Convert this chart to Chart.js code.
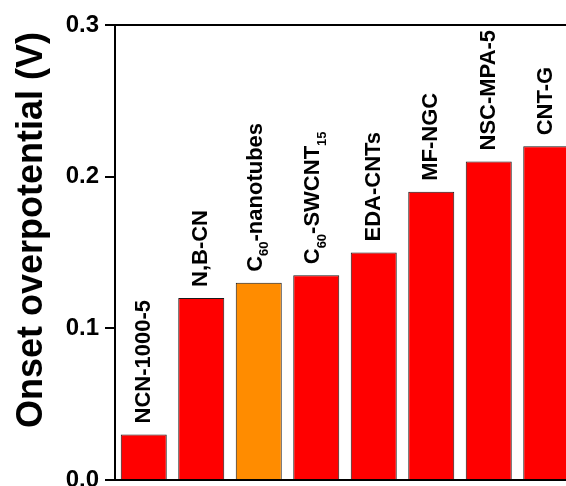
<!DOCTYPE html>
<html>
<head>
<meta charset="utf-8">
<script src="https://cdn.jsdelivr.net/npm/chart.js@4.4.1/dist/chart.umd.min.js"></script>
<style>
  html, body { margin: 0; padding: 0; background: #fff; overflow: hidden; }
  #wrap { width: 566px; height: 486px; overflow: hidden; position: relative; }
  canvas { display: block; }
</style>
</head>
<body>
<div id="wrap"><canvas id="c" width="590" height="520"></canvas></div>
<script>
// ---- data ----
const categories = ['NCN-1000-5', 'N,B-CN', 'C_{60}-nanotubes', 'C_{60}-SWCNT_{15}', 'EDA-CNTs', 'MF-NGC', 'NSC-MPA-5', 'CNT-G'];
const onsetValues = [0.03, 0.12, 0.13, 0.135, 0.15, 0.19, 0.21, 0.22];
const barColors = ['#ff0000', '#ff0000', '#ff8c00', '#ff0000', '#ff0000', '#ff0000', '#ff0000', '#ff0000'];
const yTicks = [0.0, 0.1, 0.2, 0.3];
const yTitle = 'Onset overpotential (V)';

const FONT = 'Arial, "Liberation Sans", Helvetica, sans-serif';

function parseLabel(s) {
  const parts = [];
  const re = /_\{([^}]*)\}/g;
  let last = 0, m;
  while ((m = re.exec(s)) !== null) {
    if (m.index > last) parts.push({ t: s.slice(last, m.index), sub: false });
    parts.push({ t: m[1], sub: true });
    last = re.lastIndex;
  }
  if (last < s.length) parts.push({ t: s.slice(last), sub: false });
  return parts;
}

const barLabelPlugin = {
  id: 'barLabels',
  afterDatasetsDraw(chart) {
    const ctx = chart.ctx;
    const meta = chart.getDatasetMeta(0);
    const mainSize = 22, subSize = 13;
    meta.data.forEach((bar, i) => {
      const parts = parseLabel(categories[i]);
      const hasSub = parts.some(p => p.sub);
      ctx.save();
      ctx.translate(bar.x, bar.y - 11);
      ctx.rotate(-Math.PI / 2);
      ctx.fillStyle = '#000';
      ctx.textAlign = 'left';
      ctx.textBaseline = 'middle';
      let x = 0;
      const shift = hasSub ? -3 : 0;
      parts.forEach(p => {
        if (p.sub) {
          ctx.font = 'bold ' + subSize + 'px ' + FONT;
          ctx.fillText(p.t, x, shift + 9);
        } else {
          ctx.font = 'bold ' + mainSize + 'px ' + FONT;
          ctx.fillText(p.t, x, shift);
        }
        x += ctx.measureText(p.t).width;
      });
      ctx.restore();
    });
  }
};

const titlePlugin = {
  id: 'yTitle',
  afterDraw(chart) {
    const ctx = chart.ctx;
    ctx.save();
    ctx.translate(42, 230);
    ctx.rotate(-Math.PI / 2);
    ctx.font = 'bold 36px ' + FONT;
    ctx.fillStyle = '#000';
    ctx.textAlign = 'center';
    ctx.textBaseline = 'alphabetic';
    ctx.fillText(yTitle, 0, 0);
    ctx.restore();
  }
};

new Chart(document.getElementById('c'), {
  type: 'bar',
  data: {
    labels: categories.map(s => s.replace(/_\{([^}]*)\}/g, '$1')),
    datasets: [{
      data: onsetValues,
      backgroundColor: barColors,
      borderColor: '#1a1a1a',
      borderWidth: 1,
      barPercentage: 1.0,
      categoryPercentage: 0.8
    }]
  },
  options: {
    responsive: false,
    animation: false,
    devicePixelRatio: 1,
    layout: { padding: { left: 0, right: 15, top: 25, bottom: 40 } },
    plugins: { legend: { display: false }, tooltip: { enabled: false } },
    scales: {
      x: {
        ticks: { display: false },
        grid: { display: false },
        border: { display: true, color: '#000', width: 2 },
        afterFit(scale) { scale.height = 0; }
      },
      y: {
        min: 0,
        max: 0.3,
        afterBuildTicks(scale) { scale.ticks = yTicks.map(v => ({ value: v })); },
        ticks: {
          padding: 6,
          color: '#000',
          font: { family: FONT, size: 24, weight: 'bold' },
          callback: v => Number(v).toFixed(1)
        },
        grid: {
          drawOnChartArea: true,
          color: c => (c.tick && Math.abs(c.tick.value - 0.3) < 1e-9) ? '#000' : 'rgba(0,0,0,0)',
          tickColor: '#000',
          tickLength: 10,
          lineWidth: 2
        },
        border: { display: true, color: '#000', width: 2 },
        afterFit(scale) { scale.width = 115; }
      }
    }
  },
  plugins: [barLabelPlugin, titlePlugin]
});
</script>
</body>
</html>
